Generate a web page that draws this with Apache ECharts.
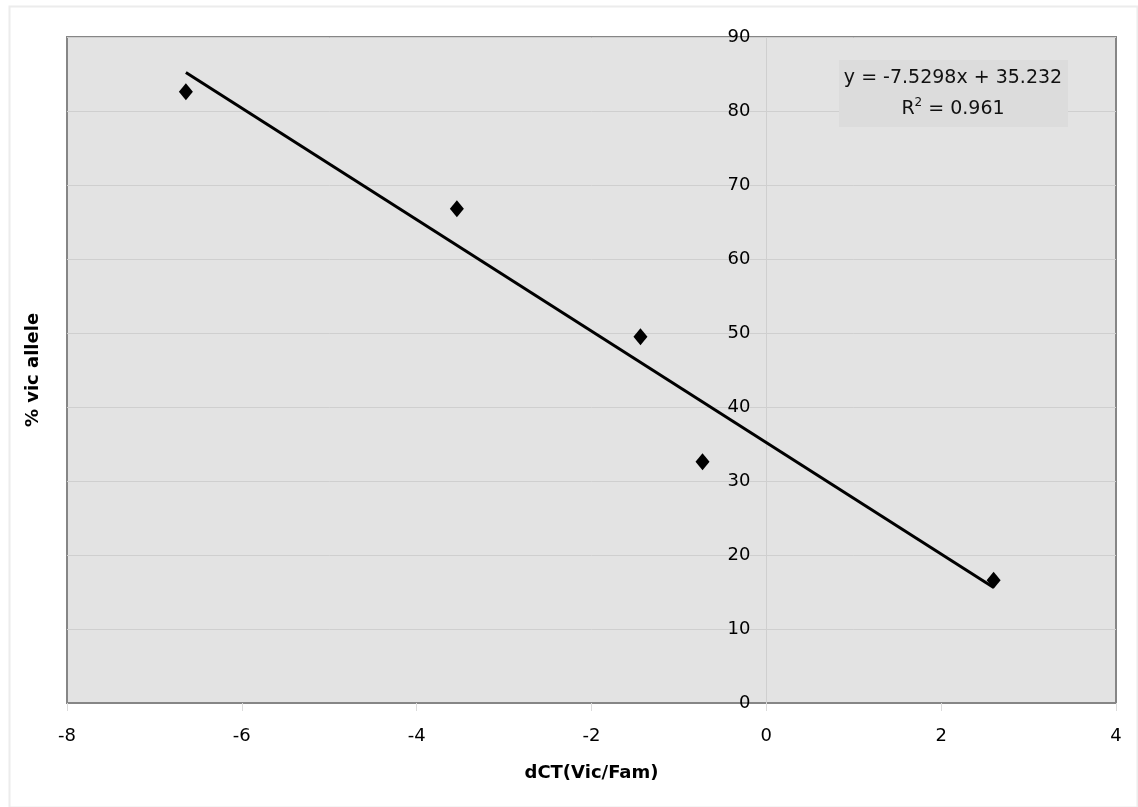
<!DOCTYPE html>
<html>
<head>
<meta charset="utf-8">
<script src="https://cdn.jsdelivr.net/npm/echarts@6/dist/echarts.min.js"></script>
<style>
  html, body { margin: 0; padding: 0; background: #fff; }
  #chart { width: 1138px; height: 807px; }
</style>
</head>
<body>
<div id="chart"></div>
<script>
// measured points
const dctValues = [-6.64, -3.54, -1.44, -0.73, 2.6];
const vicPercent = [82.6, 66.8, 49.5, 32.6, 16.6];
// fitted line ends (y = -7.5298x + 35.232)
const trendX = [-6.64, 2.6];
const trendY = [85.2, 15.6];
const equationText = 'y = -7.5298x + 35.232';
const r2Text = '0.961';

const fontFamily = 'DejaVu Sans, Verdana, sans-serif';

const chart = echarts.init(document.getElementById('chart'));

let option = {
    animation: false,
    backgroundColor: '#fff',
    grid: {
        left: 67,
        right: 22,
        top: 37,
        bottom: 104,
        outerBoundsMode: 'none',
        show: true,
        backgroundColor: '#e3e3e3',
        borderColor: '#868686',
        borderWidth: 2
    },
    xAxis: {
        type: 'value',
        min: -8,
        max: 4,
        interval: 2,
        name: 'dCT(Vic/Fam)',
        nameLocation: 'middle',
        nameGap: 61,
        nameTextStyle: { fontFamily: fontFamily, fontSize: 18, fontWeight: 'bold', color: '#000' },
        axisLine: { onZero: false, lineStyle: { color: '#868686', width: 2 } },
        axisTick: { show: true, length: 8, lineStyle: { color: '#dcdcdc' } },
        axisLabel: { fontFamily: fontFamily, fontSize: 18, color: '#000', margin: 24 },
        splitLine: { show: false }
    },
    yAxis: {
        type: 'value',
        min: 0,
        max: 90,
        interval: 10,
        axisLine: { show: false },
        axisTick: { show: false },
        axisLabel: { fontFamily: fontFamily, fontSize: 18, color: '#000', margin: 16 },
        splitLine: { show: true, lineStyle: { color: '#cfcfcf', width: 1 } }
    },
    series: [
        {
            type: 'line',
            data: trendX.map((x, i) => [x, trendY[i]]),
            symbol: 'none',
            lineStyle: { color: '#000', width: 3 },
            silent: true,
            z: 2,
            markLine: {
                silent: true,
                symbol: 'none',
                label: { show: false },
                lineStyle: { color: '#cfcfcf', width: 1, type: 'solid' },
                data: [{ xAxis: 0 }],
                z: 1
            }
        },
        {
            type: 'scatter',
            data: dctValues.map((x, i) => [x, vicPercent[i]]),
            symbol: 'diamond',
            symbolSize: [14, 17],
            itemStyle: { color: '#000', opacity: 1 },
            z: 3
        }
    ],
    graphic: [
        {
            type: 'rect',
            left: 7,
            top: 4,
            shape: { width: 1128, height: 801 },
            style: { fill: 'none', stroke: '#ececec', lineWidth: 2 },
            z: -1
        },
        {
            type: 'rect',
            left: 839,
            top: 60,
            shape: { width: 229, height: 67 },
            style: { fill: '#dcdcdc' },
            z: 10
        },
        {
            type: 'text',
            x: 953,
            y: 78,
            style: {
                text: equationText,
                align: 'center',
                verticalAlign: 'middle',
                fontFamily: fontFamily,
                fontSize: 19,
                fill: '#111'
            },
            z: 11
        },
        {
            type: 'text',
            x: 953,
            y: 109,
            style: {
                text: '{n|R}{sup|2}{n| = ' + r2Text + '}',
                align: 'center',
                verticalAlign: 'middle',
                rich: {
                    n: { fontFamily: fontFamily, fontSize: 19, fill: '#111' },
                    sup: { fontFamily: fontFamily, fontSize: 12, fill: '#111', verticalAlign: 'top', padding: [0, 0, 12, 0] }
                }
            },
            z: 11
        },
        {
            type: 'text',
            x: 33,
            y: 370,
            rotation: Math.PI / 2,
            style: {
                text: '% vic allele',
                align: 'center',
                verticalAlign: 'middle',
                fontFamily: fontFamily,
                fontSize: 18,
                fontWeight: 'bold',
                fill: '#000'
            }
        }
    ]
};

chart.setOption(option);

// y tick labels sit beside the x = 0 line, as in the original
chart.setOption({
    yAxis: { offset: -(chart.convertToPixel({ xAxisIndex: 0 }, 0) - 67) }
});
</script>
</body>
</html>
